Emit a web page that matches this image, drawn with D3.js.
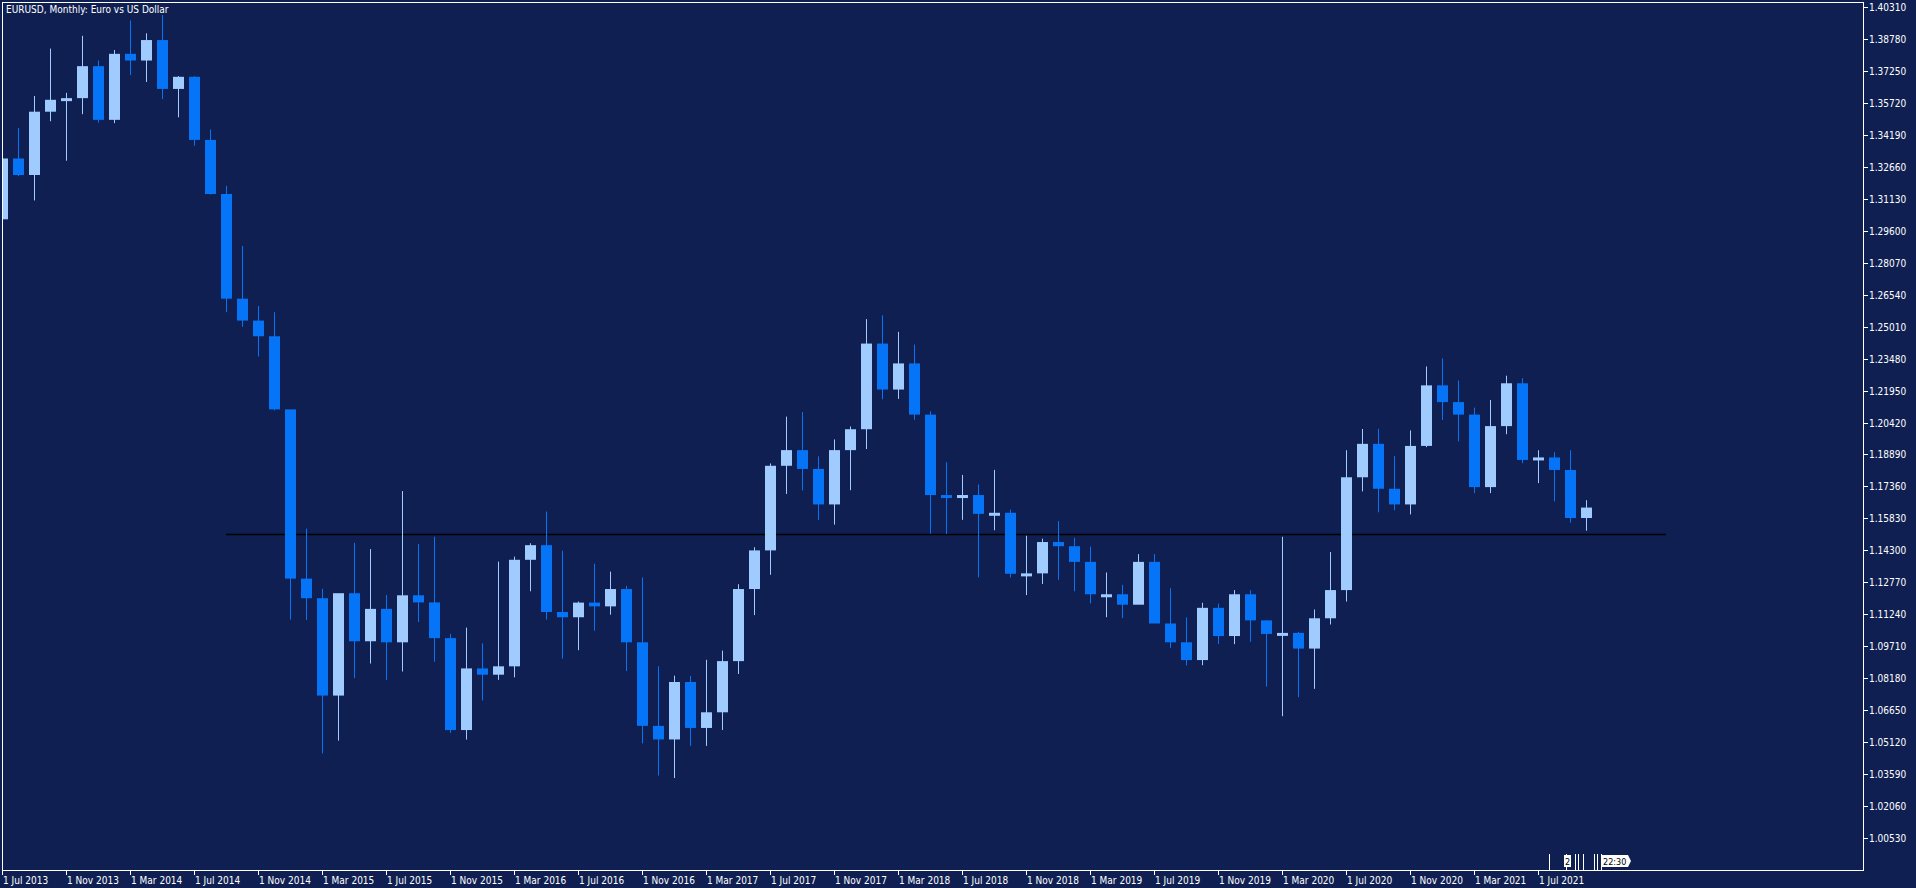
<!DOCTYPE html>
<html>
<head>
<meta charset="utf-8">
<script src="https://cdn.jsdelivr.net/npm/d3@7"></script>
<style>
body { margin: 0; background: #101f52; overflow: hidden; }
text { font-family: Tahoma, "DejaVu Sans Condensed", "Liberation Sans", sans-serif; fill: #fff; }
</style>
</head>
<body>
<svg id="chart" width="1916" height="888"></svg>
<script>
// EURUSD monthly, Jul 2013 .. Oct 2021
var months = d3.range(0, 100).map(function(i) { return new Date(2013, 6 + i, 1); });
var opens = [1.3010,1.3301,1.3222,1.3525,1.3582,1.3590,1.3743,1.3486,1.3802,1.3770,1.3868,1.3634,
1.3692,1.3390,1.3131,1.2630,1.2525,1.2450,1.2100,1.1290,1.1196,1.0730,1.1220,1.0990,
1.1145,1.0985,1.1210,1.1176,1.1005,1.0565,1.0860,1.0830,1.0870,1.1380,1.1450,1.1130,
1.1105,1.1175,1.1157,1.1240,1.0985,1.0585,1.0520,1.0795,1.0575,1.0650,1.0895,1.1240,
1.1425,1.1830,1.1905,1.1815,1.1645,1.1905,1.2005,1.2415,1.2195,1.2320,1.2075,1.1690,
1.1685,1.1690,1.1600,1.1605,1.1313,1.1315,1.1465,1.1445,1.1370,1.1215,1.1215,1.1165,
1.1370,1.1075,1.0985,1.0900,1.1150,1.1015,1.1215,1.1090,1.1025,1.1030,1.0955,1.1100,
1.1235,1.1775,1.1935,1.1720,1.1645,1.1925,1.2215,1.2135,1.2075,1.1728,1.2020,1.2225,
1.1858,1.1870,1.1810,1.1580];
var highs = [1.3346,1.3452,1.3605,1.3832,1.3620,1.3893,1.3775,1.3825,1.3967,1.3905,1.3993,1.3700,
1.3700,1.3444,1.3175,1.2887,1.2600,1.2570,1.2100,1.1534,1.1246,1.1215,1.1466,1.1436,
1.1216,1.1714,1.1460,1.1495,1.1030,1.1060,1.0985,1.1376,1.1400,1.1464,1.1616,1.1428,
1.1185,1.1366,1.1328,1.1260,1.1300,1.0875,1.0830,1.0829,1.0906,1.0950,1.1268,1.1445,
1.1846,1.2070,1.2092,1.1880,1.1961,1.2023,1.2537,1.2555,1.2476,1.2415,1.2096,1.1852,
1.1791,1.1745,1.1815,1.1625,1.1500,1.1486,1.1570,1.1490,1.1448,1.1324,1.1265,1.1412,
1.1412,1.1249,1.1109,1.1179,1.1175,1.1240,1.1239,1.1095,1.1495,1.1040,1.1147,1.1422,
1.1909,1.2011,1.2012,1.1881,1.2004,1.2310,1.2349,1.2243,1.2113,1.2150,1.2266,1.2254,
1.1909,1.1900,1.1909,1.1670];
var lows = [1.2755,1.3221,1.3105,1.3484,1.3295,1.3518,1.3477,1.3475,1.3705,1.3672,1.3590,1.3503,
1.3367,1.3133,1.2570,1.2500,1.2358,1.2100,1.1098,1.1097,1.0458,1.0519,1.0818,1.0888,
1.0809,1.0850,1.1087,1.0897,1.0556,1.0524,1.0711,1.0810,1.0822,1.1234,1.1098,1.0912,
1.0952,1.1045,1.1122,1.0852,1.0506,1.0352,1.0340,1.0494,1.0494,1.0570,1.0838,1.1120,
1.1313,1.1700,1.1717,1.1575,1.1553,1.1718,1.1915,1.2153,1.2155,1.2055,1.1510,1.1508,
1.1576,1.1301,1.1526,1.1300,1.1216,1.1269,1.1289,1.1234,1.1176,1.1110,1.1106,1.1181,
1.1100,1.0963,1.0879,1.0880,1.0981,1.0981,1.0992,1.0778,1.0636,1.0727,1.0767,1.1075,
1.1185,1.1712,1.1612,1.1622,1.1602,1.1924,1.2054,1.1952,1.1704,1.1704,1.1986,1.1847,
1.1752,1.1664,1.1563,1.1524];
var closes = opens.slice(1).concat([1.1630]);

var yTicks = d3.range(0, 27).map(function(k) { return +(1.0053 + k * 0.0153).toFixed(5); });
var xTickMonths = d3.range(0, 100, 4);
var levelPrice = 1.1508;
var levelFrom = 14, levelTo = 104;

function drawChart() {
	var svg = d3.select('#chart');
	var pLeft = 2, pRight = 1863, pTop = 2, pBottom = 870;

	var x = d3.scaleLinear().domain([0, 99]).range([2, 1586]);
	var y = d3.scaleLinear().domain([1.0053, 1.4031]).range([838, 7]);

	var bull = '#9fcbff', bear = '#0674f6';

	svg.append('clipPath').attr('id', 'clip').append('rect')
		.attr('x', pLeft).attr('y', pTop).attr('width', pRight - pLeft).attr('height', pBottom - pTop);

	var plot = svg.append('g').attr('clip-path', 'url(#clip)');

	plot.append('line')
		.attr('x1', x(levelFrom)).attr('x2', x(levelTo))
		.attr('y1', Math.round(y(levelPrice)) + 0.5).attr('y2', Math.round(y(levelPrice)) + 0.5)
		.attr('stroke', '#000').attr('stroke-width', 1.5);

	var candles = plot.selectAll('g.c').data(months).enter().append('g').attr('class', 'c');

	candles.append('line')
		.attr('x1', function(d, i) { return Math.round(x(i)) + 0.5; })
		.attr('x2', function(d, i) { return Math.round(x(i)) + 0.5; })
		.attr('y1', function(d, i) { return y(highs[i]); })
		.attr('y2', function(d, i) { return y(lows[i]); })
		.attr('stroke', function(d, i) { return closes[i] >= opens[i] ? bull : bear; });

	candles.append('rect')
		.attr('x', function(d, i) { return Math.round(x(i)) - 5; })
		.attr('width', 11)
		.attr('y', function(d, i) { return Math.min(y(opens[i]), y(closes[i])) - 1; })
		.attr('height', function(d, i) { return Math.max(3, Math.abs(y(opens[i]) - y(closes[i]))); })
		.attr('fill', function(d, i) { return closes[i] >= opens[i] ? bull : bear; });

	// frame
	svg.append('rect').attr('x', pLeft + 0.5).attr('y', pTop + 0.5)
		.attr('width', pRight - pLeft).attr('height', pBottom - pTop)
		.attr('fill', 'none').attr('stroke', '#fff');

	// price axis
	var ya = svg.append('g');
	ya.selectAll('line').data(yTicks).enter().append('line')
		.attr('x1', pRight).attr('x2', pRight + 5)
		.attr('y1', function(d) { return Math.round(y(d)) + 0.5; })
		.attr('y2', function(d) { return Math.round(y(d)) + 0.5; })
		.attr('stroke', '#fff');
	ya.selectAll('text').data(yTicks).enter().append('text')
		.attr('x', pRight + 6).attr('y', function(d) { return y(d) + 4; })
		.attr('font-size', 10)
		.text(function(d) { return d.toFixed(5); });

	// time axis
	var fmt = d3.timeFormat('%b %Y');
	var xa = svg.append('g');
	xa.selectAll('line').data(xTickMonths).enter().append('line')
		.attr('x1', function(d) { return Math.round(x(d)) + 0.5; })
		.attr('x2', function(d) { return Math.round(x(d)) + 0.5; })
		.attr('y1', pBottom).attr('y2', pBottom + 5)
		.attr('stroke', '#fff');
	xa.selectAll('text').data(xTickMonths).enter().append('text')
		.attr('x', function(d) { return x(d) + 1; }).attr('y', pBottom + 14)
		.attr('font-size', 10)
		.text(function(d) { return '1 ' + fmt(months[d]); });

	// title
	svg.append('text').attr('x', 6).attr('y', 13).attr('font-size', 10)
		.text('EURUSD, Monthly:  Euro vs US Dollar');

	// small markers near the last bar
	var marks = [1549, 1566, 1575, 1578, 1583, 1594, 1597, 1601];
	svg.selectAll('line.m').data(marks).enter().append('line').attr('class', 'm')
		.attr('x1', function(d) { return d + 0.5; }).attr('x2', function(d) { return d + 0.5; })
		.attr('y1', 854).attr('y2', pBottom).attr('stroke', '#fff');
	svg.append('rect').attr('x', 1564).attr('y', 855).attr('width', 7).attr('height', 12).attr('fill', '#fff');
	svg.append('text').attr('x', 1565).attr('y', 865).attr('font-size', 9).style('fill', '#000').text('2');
	svg.append('path').attr('d', 'M1601,855 H1628 L1631,861 L1628,867 H1601 Z').attr('fill', '#fff');
	svg.append('text').attr('x', 1603).attr('y', 865).attr('font-size', 9).style('fill', '#000').text('22:30');
}

drawChart();
</script>
</body>
</html>
